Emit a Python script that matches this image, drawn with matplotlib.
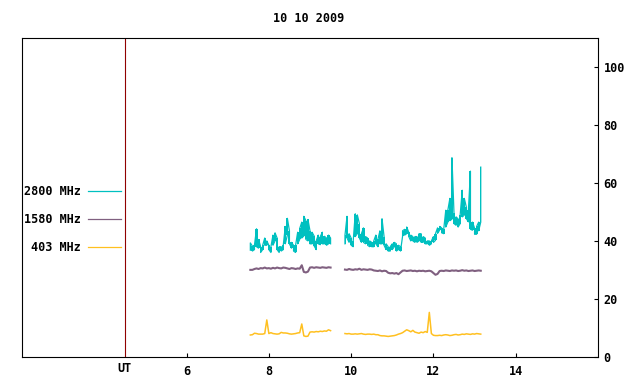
import numpy as np
import matplotlib
matplotlib.use("Agg")
import matplotlib.pyplot as plt

plt.rcParams["font.family"] = "DejaVu Sans Mono"
plt.rcParams["font.weight"] = "bold"
plt.rcParams["font.size"] = 8.5

title = "10 10 2009"
labels = ["2800 MHz", "1580 MHz", "403 MHz"]
colors = ["#00c0c0", "#806080", "#ffc020"]
ut_hour = 4.5
xtick_vals = [6, 8, 10, 12, 14]
ytick_vals = [0, 20, 40, 60, 80, 100]

# sample times (UT hours), 3 minute steps, two recording blocks
t_am = np.round(np.arange(7.55, 9.501, 0.05), 3)    # 40 samples
t_pm = np.round(np.arange(9.85, 13.151, 0.05), 3)   # 67 samples

# 2800 MHz: min / max inside each 3 minute step
f2800_am_lo = [36.8, 36.5, 37.0, 38.0, 37.5, 36.0, 37.0, 38.5, 38.5, 37.0,
               36.0, 38.5, 40.0, 37.0, 36.0, 36.5, 37.0, 39.0, 42.0, 39.0,
               37.5, 36.5, 36.0, 39.0, 40.5, 41.0, 41.7, 40.5, 40.0, 39.0,
               39.0, 38.3, 37.0, 39.0, 38.7, 39.0, 39.0, 38.5, 39.0, 39.0]
f2800_am_hi = [39.3, 38.2, 38.5, 44.2, 40.5, 38.0, 38.5, 41.0, 40.0, 38.5,
               38.0, 42.0, 42.8, 41.0, 38.0, 38.0, 38.5, 45.0, 47.8, 43.5,
               39.5, 38.5, 38.5, 43.0, 44.3, 46.5, 48.5, 47.0, 47.4, 43.5,
               43.0, 41.7, 40.0, 42.0, 41.5, 43.0, 41.6, 41.0, 42.0, 41.0]
f2800_pm_lo = [39.0, 41.0, 39.5, 38.5, 38.0, 41.5, 42.5, 41.0, 39.5, 39.5,
               39.0, 38.5, 38.0, 38.0, 38.0, 39.0, 38.0, 39.0, 39.0, 38.5,
               37.0, 36.5, 36.5, 37.0, 38.0, 36.5, 37.0, 36.5, 41.6, 42.0,
               42.5, 41.5, 40.0, 40.0, 39.5, 39.5, 40.0, 39.5, 39.5, 39.0,
               39.0, 38.5, 39.0, 39.5, 40.2, 42.6, 43.7, 42.8, 42.5, 44.8,
               46.5, 47.0, 47.5, 46.0, 45.4, 44.8, 46.0, 48.3, 48.9, 47.7,
               46.6, 44.0, 43.7, 42.3, 42.3, 43.5, 46.5]
f2800_pm_hi = [42.0, 48.5, 42.5, 41.0, 40.0, 49.4, 49.0, 46.0, 42.5, 44.5,
               41.5, 41.0, 40.0, 39.5, 40.0, 42.0, 40.5, 43.5, 47.7, 41.5,
               39.0, 38.0, 38.0, 39.0, 39.5, 39.0, 38.5, 38.0, 43.5, 44.0,
               44.8, 43.0, 42.0, 41.5, 41.5, 41.5, 42.5, 42.5, 41.5, 41.0,
               40.0, 40.0, 40.0, 41.5, 42.5, 44.5, 45.0, 44.5, 44.0, 50.6,
               50.6, 54.7, 68.8, 49.5, 48.3, 47.6, 49.0, 57.5, 54.7, 51.7,
               50.6, 64.1, 46.5, 44.4, 45.0, 46.5, 65.5]

# 1580 MHz
f1580_am = [30.0, 30.0, 30.3, 30.5, 30.3, 30.6, 30.5, 30.8, 30.5, 30.6,
            30.4, 30.7, 30.5, 30.8, 30.6, 30.5, 30.8, 30.7, 30.5, 30.3,
            30.6, 30.5, 30.3, 30.5, 30.4, 31.6, 29.3, 29.1, 29.4, 30.8,
            30.9, 30.7, 30.9, 30.8, 30.7, 30.9, 30.8, 30.7, 30.9, 30.8]
f1580_pm = [30.1, 30.0, 30.3, 30.1, 30.0, 30.2, 30.1, 30.4, 30.0, 30.2,
            30.1, 30.0, 30.2, 30.1, 29.8, 29.7, 29.6, 29.8, 29.5, 29.7,
            29.6, 29.0, 28.8, 28.9, 28.7, 28.9, 28.5, 29.1, 29.7, 29.8,
            29.6, 29.7, 29.8, 29.6, 29.7, 29.5, 29.7, 29.6, 29.7, 29.5,
            29.6, 29.7, 29.5, 28.9, 28.3, 28.6, 29.6, 29.7, 29.6, 29.8,
            29.7, 29.6, 29.8, 29.7, 29.8, 29.6, 29.7, 29.9, 29.7, 29.8,
            29.6, 29.7, 29.8, 29.6, 29.7, 29.8, 29.7]

# 403 MHz
f403_am = [7.5, 7.6, 8.1, 8.0, 7.8, 7.8, 7.8, 8.0, 12.7, 8.0,
           8.3, 8.0, 7.9, 7.8, 7.9, 8.4, 8.2, 8.2, 8.1, 7.9,
           7.8, 7.9, 8.0, 8.2, 8.3, 11.3, 7.2, 7.0, 7.1, 8.5,
           8.6, 8.5, 8.7, 8.6, 8.8, 8.7, 8.9, 8.8, 9.3, 9.0]
f403_pm = [8.0, 7.9, 8.0, 7.8, 7.8, 7.9, 7.8, 7.9, 8.0, 7.8,
           7.7, 7.8, 7.8, 7.7, 7.8, 7.6, 7.6, 7.3, 7.2, 7.2,
           7.1, 7.0, 7.1, 7.2, 7.3, 7.5, 7.8, 8.0, 8.3, 8.8,
           9.3, 9.0, 8.6, 9.1, 8.5, 8.3, 8.1, 8.5, 8.3, 8.7,
           8.4, 15.3, 8.0, 7.4, 7.3, 7.3, 7.4, 7.3, 7.5, 7.6,
           7.5, 7.3, 7.4, 7.6, 7.7, 7.5, 7.6, 7.8, 7.7, 7.9,
           7.8, 7.7, 7.9, 7.8, 8.0, 7.9, 7.8]


def band(t, lo, hi):
    # vertical stroke from min to max at each step, alternating direction
    lo = np.asarray(lo)
    hi = np.asarray(hi)
    x = np.repeat(t, 2)
    even = np.arange(len(t)) % 2 == 0
    y = np.column_stack([np.where(even, lo, hi), np.where(even, hi, lo)]).ravel()
    return x, y


def join(xa, ya, xb, yb):
    x = np.concatenate([xa, [np.nan], xb])
    y = np.concatenate([ya, [np.nan], yb])
    return x, y


x1580, y1580 = join(t_am, f1580_am, t_pm, f1580_pm)
x403, y403 = join(t_am, f403_am, t_pm, f403_pm)

fig = plt.figure(figsize=(6.4, 3.84), dpi=100)
ax = fig.add_axes([22 / 640, 27.3 / 384, 576 / 640, 318.4 / 384])

for t, lo, hi in [(t_am, f2800_am_lo, f2800_am_hi), (t_pm, f2800_pm_lo, f2800_pm_hi)]:
    ax.fill_between(t, lo, hi, step="mid", color=colors[0], lw=0)
    bx, by = band(t, lo, hi)
    ax.plot(bx, by, color=colors[0], lw=0.9)
ax.plot(x1580, y1580, color=colors[1], lw=1.5)
ax.plot(x403, y403, color=colors[2], lw=1.1)
ax.axvline(ut_hour, color="#900000", lw=0.8)

ax.set_xlim(2, 16)
ax.set_ylim(0, 110)
for s in ax.spines.values():
    s.set_linewidth(0.8)

ax.set_xticks([ut_hour] + xtick_vals, ["UT"] + [str(v) for v in xtick_vals])
ax.tick_params(axis="x", direction="in", length=3, width=0.8, pad=6, top=False)
ut_tick = ax.xaxis.get_major_ticks()[0]
ut_tick.tick1line.set_visible(False)
ut_tick.set_pad(4)

ax.yaxis.tick_right()
ax.set_yticks(ytick_vals)
ax.tick_params(axis="y", direction="in", length=3, width=0.8, pad=4, left=False)

fig.text(309 / 640, 1 - 19 / 384, title, ha="center", va="center")

leg_handles = [plt.Line2D([], [], color=c, lw=0.9) for c in colors]
ax.legend(leg_handles, labels, loc="center right",
          bbox_to_anchor=((121 - 22) / 576, (356.7 - 219.5) / 318.4),
          frameon=False, markerfirst=False, handlelength=2.8,
          handletextpad=0.6, labelspacing=1.3, borderpad=0, borderaxespad=0)

fig.savefig("out.png", dpi=100)
